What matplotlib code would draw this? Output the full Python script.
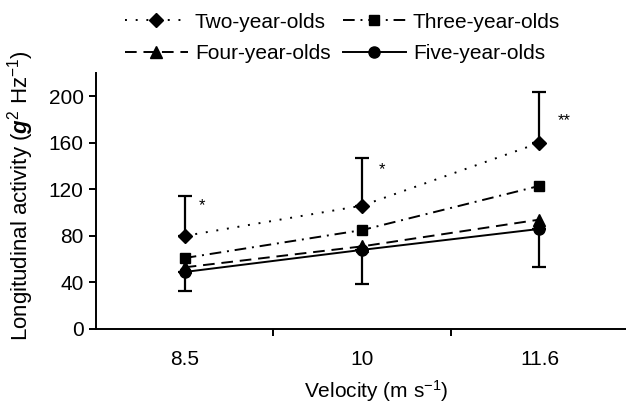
import matplotlib
matplotlib.use("Agg")
import matplotlib.pyplot as plt
import numpy as np

plt.rcParams["font.family"] = ["Liberation Sans", "DejaVu Sans"]
plt.rcParams["mathtext.fontset"] = "custom"
plt.rcParams["mathtext.rm"] = "Liberation Sans"
plt.rcParams["mathtext.it"] = "Liberation Sans:italic"
plt.rcParams["mathtext.bf"] = "Liberation Sans:bold"
plt.rcParams["mathtext.bfit"] = "Liberation Sans:italic:bold"

# ====== Data ======
velocities = ["8.5", "10", "11.6"]
two_year = [80, 106, 160]
three_year = [61, 85, 123]
four_year = [53, 71, 94]
five_year = [49, 68, 86]
two_year_err_up = [34, 41, 44]
five_year_err_down = [16, 29, 33]
stars = ["*", "*", "**"]
star_y = [106, 137, 179]

x = np.arange(len(velocities))

fig = plt.figure(figsize=(6.26, 4.05), dpi=100)
ax = fig.add_axes([0.1534, 0.1877, 0.85, 0.632])

lw = 1.4
h2, = ax.plot(x, two_year, color="black", lw=lw, dashes=(1, 4.5),
              marker="D", ms=7, label="Two-year-olds")
h3, = ax.plot(x, three_year, color="black", lw=lw, dashes=(6, 3, 1, 3),
              marker="s", ms=7.5, label="Three-year-olds")
h4, = ax.plot(x, four_year, color="black", lw=lw, dashes=(6, 3.5),
              marker="^", ms=8, label="Four-year-olds")
h5, = ax.plot(x, five_year, color="black", lw=lw, ls="-",
              marker="o", ms=8, label="Five-year-olds")

ax.errorbar(x, two_year, yerr=[[0] * 3, two_year_err_up], fmt="none",
            ecolor="black", elinewidth=1.6, capsize=5, capthick=1.6)
ax.errorbar(x, five_year, yerr=[five_year_err_down, [0] * 3], fmt="none",
            ecolor="black", elinewidth=1.6, capsize=5, capthick=1.6)

offsets = [0.10, 0.11, 0.14]
for xi, s, sy, off in zip(x, stars, star_y, offsets):
    ax.text(xi + off, sy, s, ha="center", va="center", fontsize=12)

ax.set_xlim(-0.5, 2.5)
ax.set_ylim(0, 220)
ax.set_yticks([0, 40, 80, 120, 160, 200])
ax.set_xticks(x)
ax.set_xticklabels(velocities)
ax.set_xticks([0.5, 1.5], minor=True)
ax.tick_params(axis="x", which="major", length=0, pad=15, labelsize=15)
ax.tick_params(axis="x", which="minor", length=5, width=1.4, direction="out")
ax.tick_params(axis="y", length=5, width=1.4, pad=4, labelsize=15)

for side in ["top", "right"]:
    ax.spines[side].set_visible(False)
for side in ["left", "bottom"]:
    ax.spines[side].set_linewidth(1.4)

ax.set_xlabel(r"Velocity (m s$^{-1}$)", fontsize=15)
ax.xaxis.set_label_coords(0.526, -0.19)
ax.set_ylabel(r"Longitudinal activity ($\mathbfit{g}^{2}$ Hz$^{-1}$)", fontsize=16)
ax.yaxis.set_label_coords(-0.113, 0.52)

fig.legend([h2, h4, h3, h5],
           ["Two-year-olds", "Four-year-olds", "Three-year-olds", "Five-year-olds"],
           ncol=2, loc="upper left", bbox_to_anchor=(0.17, 1.015), frameon=False,
           fontsize=15, handlelength=3.0, handletextpad=0.35, columnspacing=0.6,
           labelspacing=0.6)

plt.savefig("out.png", dpi=100)
